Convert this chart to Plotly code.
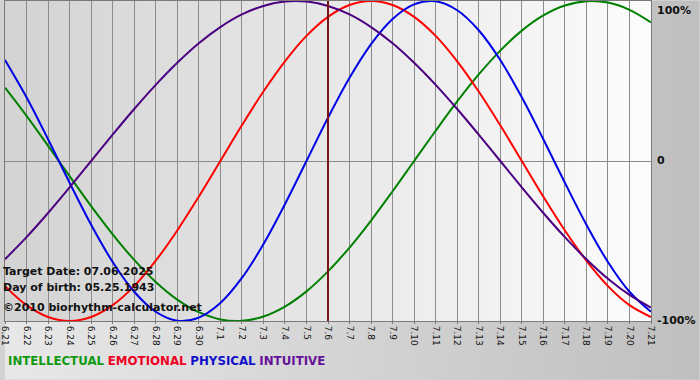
import base64
import plotly.graph_objects as go

# ---- data ----
dates = ["6.21", "6.22", "6.23", "6.24", "6.25", "6.26", "6.27", "6.28", "6.29", "6.30",
         "7.1", "7.2", "7.3", "7.4", "7.5", "7.6", "7.7", "7.8", "7.9", "7.10",
         "7.11", "7.12", "7.13", "7.14", "7.15", "7.16", "7.17", "7.18", "7.19", "7.20", "7.21"]

intellectual = [0.458, 0.282, 0.095, -0.095, -0.282, -0.458, -0.618, -0.756, -0.866, -0.945,
                -0.990, -0.999, -0.972, -0.910, -0.815, -0.690, -0.541, -0.372, -0.189, 0.000,
                0.189, 0.372, 0.541, 0.690, 0.815, 0.910, 0.972, 0.999, 0.990, 0.945, 0.866]
emotional = [-0.782, -0.901, -0.975, -1.000, -0.975, -0.901, -0.782, -0.623, -0.434, -0.223,
             0.000, 0.223, 0.434, 0.623, 0.782, 0.901, 0.975, 1.000, 0.975, 0.901,
             0.782, 0.623, 0.434, 0.223, 0.000, -0.223, -0.434, -0.623, -0.782, -0.901, -0.975]
physical = [0.631, 0.398, 0.136, -0.136, -0.398, -0.631, -0.817, -0.942, -0.998, -0.979,
            -0.888, -0.731, -0.520, -0.270, 0.000, 0.270, 0.520, 0.731, 0.888, 0.979,
            0.998, 0.942, 0.817, 0.631, 0.398, 0.136, -0.136, -0.398, -0.631, -0.817, -0.942]
intuitive = [-0.614, -0.476, -0.325, -0.165, 0.000, 0.165, 0.325, 0.476, 0.614, 0.736,
             0.837, 0.916, 0.969, 0.997, 0.997, 0.969, 0.916, 0.837, 0.736, 0.614,
             0.476, 0.325, 0.165, 0.000, -0.165, -0.325, -0.476, -0.614, -0.736, -0.837, -0.916]

series_names = ["INTELLECTUAL", "EMOTIONAL", "PHYSICAL", "INTUITIVE"]
y_tick_vals = [1, 0, -1]
y_tick_text = ["100%", "0", "-100%"]
target_label = "7.6"
info_lines = ["Target Date: 07.06.2025", "Day of birth: 05.25.1943", "\u00a92010 biorhythm-calculator.net"]

# ---- styling ----
colors = ["#008000", "#ff0000", "#0000e6", "#4b0082"]
legend_colors = ["#119911", "#ee0022", "#1111cc", "#661199"]
FONT = "DejaVu Sans"


def grad_uri(c1, c2):
    svg = ("<svg xmlns='http://www.w3.org/2000/svg' width='100' height='100' viewBox='0 0 100 100' "
           "preserveAspectRatio='none'><defs><linearGradient id='g' x1='0' y1='0' x2='1' y2='0'>"
           f"<stop offset='0' stop-color='{c1}'/><stop offset='1' stop-color='{c2}'/>"
           "</linearGradient></defs><rect width='100' height='100' fill='url(#g)'/></svg>")
    return "data:image/svg+xml;base64," + base64.b64encode(svg.encode()).decode()


W, H = 700, 380
ML, MR, MT, MB = 0, 49, 0, 59
pw, ph = W - ML - MR, H - MT - MB

x = list(range(len(dates)))
fig = go.Figure()
for name, vals, col in zip(series_names, [intellectual, emotional, physical, intuitive], colors):
    fig.add_trace(go.Scatter(x=x, y=vals, mode="lines", name=name,
                             line=dict(color=col, width=2, shape="spline", smoothing=1.0),
                             cliponaxis=False, hoverinfo="skip"))

ti = dates.index(target_label)
fig.add_shape(type="line", xref="x", yref="paper", x0=ti, x1=ti, y0=0, y1=1,
              line=dict(color="#7a1414", width=2), layer="above")

# right-side value labels
for v, t in zip(y_tick_vals, y_tick_text):
    fig.add_annotation(xref="paper", yref="y", x=1, y=v, text=f"<b>{t}</b>", showarrow=False,
                       xanchor="left", yanchor=("top" if v == 1 else "middle"), xshift=4,
                       yshift=(-1 if v == 1 else 1),
                       font=dict(family=FONT, size=11, color="#111111"))

# info text bottom-left
info_y_px = [271, 287, 307]
for t, py in zip(info_lines, info_y_px):
    fig.add_annotation(xref="paper", yref="paper", x=0, y=1 - py / ph, text=f"<b>{t}</b>",
                       showarrow=False, xanchor="left", yanchor="middle", xshift=-4,
                       font=dict(family=FONT, size=11, color="#111111"))

# legend line
legend_html = " ".join(f"<span style='color:{c}'><b>{n}</b></span>"
                       for n, c in zip(series_names, legend_colors))
fig.add_annotation(xref="paper", yref="paper", x=0, y=1 - 361 / ph, text=legend_html,
                   showarrow=False, xanchor="left", yanchor="middle", xshift=1,
                   font=dict(family=FONT, size=11.8))

fig.update_layout(
    width=W, height=H, margin=dict(l=ML, r=MR, t=MT, b=MB, pad=0),
    paper_bgcolor="#d2d2d2", plot_bgcolor="rgba(0,0,0,0)",
    showlegend=False,
    images=[
        dict(source=grad_uri("#e8e8e8", "#bfbfbf"), xref="paper", yref="paper",
             x=-ML / pw, y=1 + MT / ph, sizex=W / pw, sizey=H / ph,
             sizing="stretch", layer="below", xanchor="left", yanchor="top"),
        dict(source=grad_uri("#d3d3d3", "#fcfcfc"), xref="paper", yref="paper",
             x=0, y=1, sizex=1, sizey=1, sizing="stretch", layer="below",
             xanchor="left", yanchor="top"),
    ],
    xaxis=dict(range=[0, len(dates) - 1], tickvals=x, ticktext=dates, tickangle=90,
               showgrid=True, gridcolor="#8c8c8c", gridwidth=1, zeroline=False,
               showline=True, linecolor="#7a7a7a", linewidth=1, mirror=True,
               ticks="outside", ticklen=2, tickcolor="#7a7a7a",
               ticklabeloverflow="allow",
               tickfont=dict(family=FONT, size=9, color="#111111")),
    yaxis=dict(range=[-1, 1], tickvals=y_tick_vals, showticklabels=False,
               showgrid=True, gridcolor="#8c8c8c", gridwidth=1, zeroline=False,
               showline=True, linecolor="#7a7a7a", linewidth=1, mirror=True, ticks=""),
)

fig.write_html("out.html", config={"displayModeBar": False, "staticPlot": True},
               post_script=["document.body.style.margin='0';"])
